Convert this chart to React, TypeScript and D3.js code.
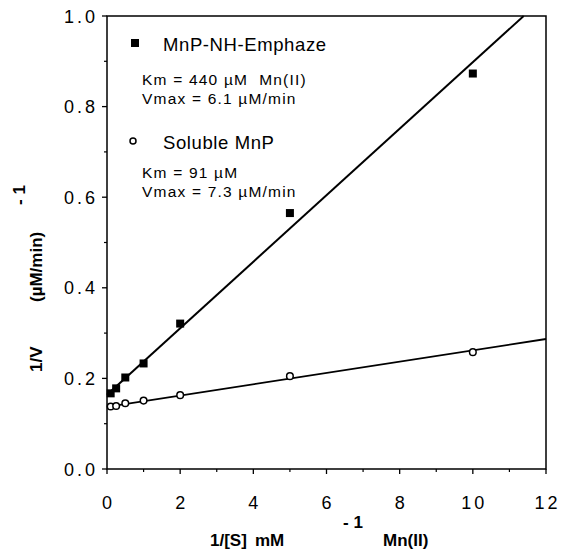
import React from 'react';
import * as d3 from 'd3';

// 1/[S] (mM^-1) and 1/V ((µM/min)^-1)
const emphazeX = [0.1, 0.25, 0.5, 1, 2, 5, 10];
const emphazeY = [0.167, 0.178, 0.202, 0.233, 0.321, 0.565, 0.873];
const solubleX = [0.1, 0.25, 0.5, 1, 2, 5, 10];
const solubleY = [0.138, 0.139, 0.145, 0.151, 0.163, 0.205, 0.258];

// fitted lines: [intercept, slope]
const emphazeFit = [0.164, 0.0734];
const solubleFit = [0.137, 0.0125];

const xTicks = [0, 2, 4, 6, 8, 10, 12];
const xMinor = [1, 3, 5, 7, 9, 11];
const yTicks = [0, 0.2, 0.4, 0.6, 0.8, 1.0];
const yMinor = [0.1, 0.3, 0.5, 0.7, 0.9];

const W = 563;
const H = 551;
const margin = { top: 16, right: 17, bottom: 82, left: 107 };
const font = '"Liberation Sans", Arial, Helvetica, sans-serif';
const pre = { whiteSpace: 'pre' as const };

const App = () => {
    const x = d3.scaleLinear().domain([0, 12]).range([margin.left, W - margin.right]);
    const y = d3.scaleLinear().domain([0, 1]).range([H - margin.bottom, margin.top]);

    const fitLine = (fit: number[]) => {
        // clip line to the plot box
        const xEnd = Math.min(12, (1 - fit[0]) / fit[1]);
        return d3.line<number>()
            .x(d => x(d))
            .y(d => y(fit[0] + fit[1] * d))([0, xEnd]);
    };

    const x0 = x(0), x1 = x(12), y0 = y(0), y1 = y(1);

    return (
        <svg width={W} height={H} style={{ position: 'absolute', left: 0, top: 0, background: '#fff' }}
            fontFamily={font}>
            {/* frame */}
            <path d={`M${x0},${y0}H${x1}V${y1}H${x0}Z`} fill="none" stroke="#000" strokeWidth={1.5} />

            {/* x axis ticks */}
            {xTicks.map(t => (
                <g key={'xt' + t}>
                    <line x1={x(t)} x2={x(t)} y1={y0} y2={y0 + 5} stroke="#000" strokeWidth={1.3} />
                    <text x={x(t) + 1.5} y={y0 + 40} textAnchor="middle" fontSize={18} letterSpacing={3}>{t}</text>
                </g>
            ))}
            {xMinor.map(t => (
                <line key={'xm' + t} x1={x(t)} x2={x(t)} y1={y0} y2={y0 + 3} stroke="#000" strokeWidth={1.2} />
            ))}

            {/* y axis ticks */}
            {yTicks.map(t => (
                <g key={'yt' + t}>
                    <line x1={x0 - 5} x2={x0} y1={y(t)} y2={y(t)} stroke="#000" strokeWidth={1.3} />
                    <text x={x0 - 9} y={y(t) + 6.5} textAnchor="end" fontSize={18} letterSpacing={3}>{t.toFixed(1)}</text>
                </g>
            ))}
            {yMinor.map(t => (
                <line key={'ym' + t} x1={x0 - 3} x2={x0} y1={y(t)} y2={y(t)} stroke="#000" strokeWidth={1.2} />
            ))}

            {/* fit lines */}
            <path d={fitLine(emphazeFit) || ''} fill="none" stroke="#000" strokeWidth={2} />
            <path d={fitLine(solubleFit) || ''} fill="none" stroke="#000" strokeWidth={1.8} />

            {/* data points */}
            {emphazeX.map((v, i) => (
                <rect key={'e' + i} x={x(v) - 4} y={y(emphazeY[i]) - 4} width={8} height={8} fill="#000" />
            ))}
            {solubleX.map((v, i) => (
                <circle key={'s' + i} cx={x(v)} cy={y(solubleY[i])} r={3.3} fill="#fff" stroke="#000" strokeWidth={1.5} />
            ))}

            {/* legend */}
            <rect x={131} y={39} width={8} height={8} fill="#000" />
            <text x={163} y={51} fontSize={18.5} letterSpacing={0.6} style={pre}>MnP-NH-Emphaze</text>
            <text x={142} y={85} fontSize={15.5} letterSpacing={1.2} style={pre}>Km = 440 µM  Mn(II)</text>
            <text x={142} y={104} fontSize={15.5} letterSpacing={1.2} style={pre}>Vmax = 6.1 µM/min</text>
            <circle cx={133} cy={141} r={3} fill="#fff" stroke="#000" strokeWidth={1.5} />
            <text x={163} y={149} fontSize={18.5} letterSpacing={0.6} style={pre}>Soluble MnP</text>
            <text x={142} y={178} fontSize={15.5} letterSpacing={1.2} style={pre}>Km = 91 µM</text>
            <text x={142} y={197} fontSize={15.5} letterSpacing={1.2} style={pre}>Vmax = 7.3 µM/min</text>

            {/* x axis title */}
            <g fontWeight="bold" fontSize={17} style={pre}>
                <text x={210} y={546}>1/[S]</text>
                <text x={255} y={546}>mM</text>
                <text x={343} y={528}>-  1</text>
                <text x={383} y={546}>Mn(II)</text>
            </g>

            {/* y axis title */}
            <g fontWeight="bold" fontSize={17} transform="rotate(-90)" style={pre}>
                <text x={-372} y={42}>1/V</text>
                <text x={-302} y={42}>(µM/min)</text>
                <text x={-205} y={25}>-  1</text>
            </g>
        </svg>
    );
};

export default App;
